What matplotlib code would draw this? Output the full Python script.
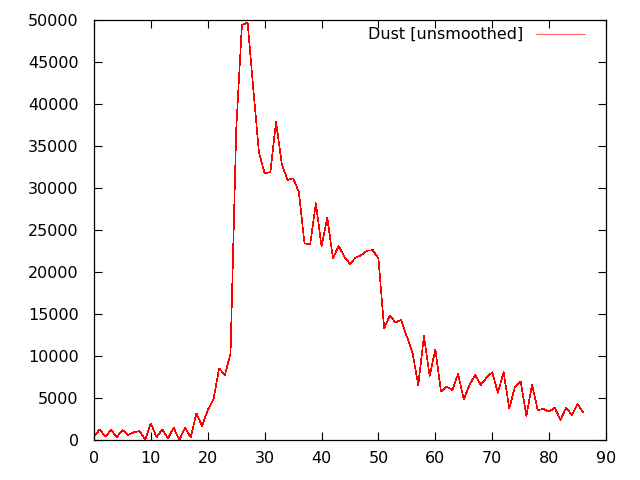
import matplotlib
matplotlib.use("Agg")
import matplotlib.pyplot as plt

# Данные
x_values = list(range(0, 87))
dust = [400, 1270, 400, 1190, 320, 1190, 600, 910, 1070, 80,
        1980, 320, 1270, 200, 1470, 0, 1470, 320, 3170, 1670,
        3570, 4840, 8530, 7740, 10300, 37000, 49400, 49700, 41800, 34200,
        31750, 31900, 37900, 32900, 30950, 31150, 29560, 23400, 23300, 28180,
        23020, 26500, 21630, 23100, 21830, 20950, 21710, 22020, 22540, 22600,
        21600, 13290, 14800, 14010, 14290, 12300, 10320, 6550, 12380, 7620,
        10790, 5750, 6350, 5950, 7860, 4840, 6550, 7740, 6550, 7420,
        8060, 5630, 8060, 3770, 6350, 6940, 2860, 6550, 3570, 3690,
        3370, 3850, 2380, 3850, 2980, 4250, 3290]

x_ticks = list(range(0, 91, 10))
y_ticks = list(range(0, 50001, 5000))

plt.rcParams['font.family'] = ['DejaVu Sans']
fig = plt.figure(figsize=(6.4, 4.8), dpi=100)
ax = fig.add_axes([94 / 640, 40 / 480, 512 / 640, 420 / 480])

ax.plot(x_values, dust, color="#ff0000", lw=0.45, antialiased=False,
        label="Dust [unsmoothed]")

ax.set_xlim(0, 90)
ax.set_ylim(0, 50000)
ax.set_xticks(x_ticks)
ax.set_yticks(y_ticks)

# Деления внутрь, с четырёх сторон, как в gnuplot
ax.tick_params(axis="both", which="major", direction="in", length=6, width=0.8,
               top=True, right=True, labelsize=11.5, colors="black")
ax.tick_params(axis="x", pad=8)
ax.tick_params(axis="y", pad=11)
for s in ax.spines.values():
    s.set_linewidth(0.9)

ax.legend(loc="upper right", bbox_to_anchor=(0.978, 1.0055), frameon=False,
          markerfirst=False, fontsize=11.5, handlelength=3.1,
          handletextpad=0.8, borderaxespad=0, borderpad=0.6)

plt.savefig("out.png", dpi=100)
